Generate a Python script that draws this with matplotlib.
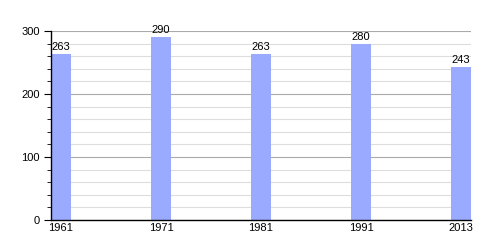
import numpy as np
import matplotlib.pyplot as plt
from matplotlib.ticker import MultipleLocator

plt.rcParams["font.family"] = ["Liberation Sans", "DejaVu Sans"]

# data
years = ["1961", "1971", "1981", "1991", "2013"]
values = [263, 290, 263, 280, 243]

fig = plt.figure(figsize=(5, 2.5), dpi=100)
ax = fig.add_axes([0.102, 0.12, 0.84, 0.756])

x = np.arange(len(years))
ax.bar(x, values, width=0.2, align="edge", color="#99aaff", zorder=3)

for xi, v in zip(x, values):
    ax.text(xi + 0.1, v + 3, str(v), ha="center", va="bottom", fontsize=8)

ax.set_xlim(0, 4.2)
ax.set_ylim(0, 300)
ax.set_xticks(x + 0.1)
ax.set_xticklabels(years, fontsize=8)
ax.yaxis.set_major_locator(MultipleLocator(100))
ax.yaxis.set_minor_locator(MultipleLocator(20))
ax.tick_params(axis="y", which="major", length=5, labelsize=8, pad=3)
ax.tick_params(axis="y", which="minor", length=3)
ax.tick_params(axis="x", length=0, labelsize=8, pad=2)

ax.grid(axis="y", which="major", color="#aaaaaa", linewidth=0.8, zorder=0)
ax.grid(axis="y", which="minor", color="#dddddd", linewidth=0.8, zorder=0)

for s in ["top", "right"]:
    ax.spines[s].set_visible(False)
ax.spines["left"].set_linewidth(1)
ax.spines["bottom"].set_linewidth(1)
ax.spines["left"].set_zorder(4)
ax.spines["bottom"].set_zorder(4)

fig.savefig("out.png")
